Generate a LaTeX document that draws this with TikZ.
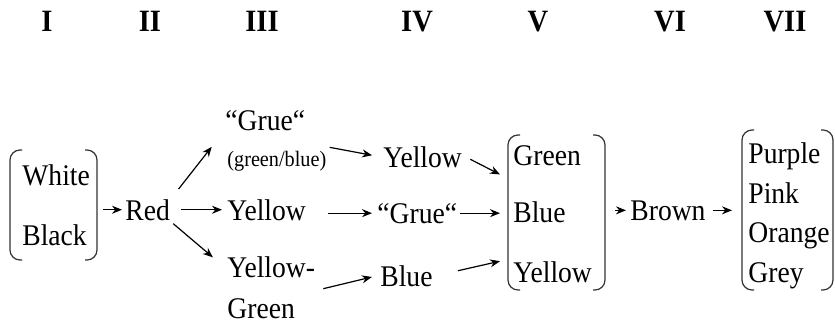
\documentclass[tikz,border=0pt]{standalone}
\usepackage{fontspec}
\setmainfont{Liberation Serif}[FakeStretch=0.92]
\usepackage{tikz}
\usetikzlibrary{positioning,arrows.meta}

\tikzset{
    word/.style={font=\fontsize{15}{18}\selectfont, inner sep=1.5pt, anchor=base west},
    small/.style={font=\fontsize{11}{13}\selectfont, inner sep=1.5pt, anchor=base west},
    stage/.style={font=\fontsize{15.5}{18}\selectfont\bfseries, inner sep=0pt, anchor=base},
    grp/.style={inner sep=0pt, outer sep=0pt, draw=none},
    arr/.style={-{Stealth[length=5pt,width=4pt]}, line width=0.6pt},
    brk/.style={line width=0.6pt, black!80, rounded corners=5pt}
}

\begin{document}
\begin{tikzpicture}[x=0.5pt, y=-0.5pt]
    \useasboundingbox (0,0) rectangle (835,322);

    % stages
    \node[stage] (s1) at (47,31) {I};
    \node[stage] (s2) at (150,31) {II};
    \node[stage] (s3) at (262,31) {III};
    \node[stage] (s4) at (417,31) {IV};
    \node[stage] (s5) at (538,31) {V};
    \node[stage] (s6) at (670,31) {VI};
    \node[stage] (s7) at (785,31) {VII};

    % groups in brackets
    \node[grp, minimum width=43.5pt, minimum height=55pt] (g1) at (53.5,205) {};
    \node[grp, minimum width=48.5pt, minimum height=77.5pt] (g5) at (556.5,212.5) {};
    \node[grp, minimum width=45.5pt, minimum height=80pt] (g7) at (787.5,210) {};

    \node[word] (white) at (19,185) {White};
    \node[word] (black) at (19,245) {Black};

    \node[word] (red) at (122,220) {Red};

    \node[word] (grue3) at (222,130) {“Grue“};
    \node[small] (gb) at (224,166) {(green/blue)};
    \node[word] (yel3) at (224,220) {Yellow};
    \node[word] (yg) at (224,277) {Yellow-};
    \node[word] (green3) at (224,318) {Green};

    \node[word] (yel4) at (380,167) {Yellow};
    \node[word] (grue4) at (374,223) {“Grue“};
    \node[word] (blue4) at (377,286) {Blue};

    \node[word] (green5) at (510,165) {Green};
    \node[word] (blue5) at (510,222) {Blue};
    \node[word] (yel5) at (510,282) {Yellow};

    \node[word] (brown) at (627,220) {Brown};

    \node[word] (purple) at (745,163) {Purple};
    \node[word] (pink) at (745,203) {Pink};
    \node[word] (orange) at (745,242) {Orange};
    \node[word] (grey) at (745,282) {Grey};

    % brackets
    \foreach \g in {g1,g5,g7} {
        \draw[brk] ([xshift=6pt]\g.north west) -- (\g.north west) -- (\g.south west) -- ([xshift=6pt]\g.south west);
        \draw[brk] ([xshift=-6pt]\g.north east) -- (\g.north east) -- (\g.south east) -- ([xshift=-6pt]\g.south east);
    }

    % arrows
    \draw[arr, shorten <=3pt] (g1.east |- red.west) -- (red.west);
    \draw[arr, shorten <=4.3pt, shorten >=8.3pt] (red.north east) -- (grue3.south west);
    \draw[arr, shorten <=4pt, shorten >=1pt] (red.east) -- (yel3.west);
    \draw[arr, shorten >=7.3pt] (red.south east) -- (yg.west);

    \draw[arr, shorten >=4pt] (gb.north east) -- (yel4.west);
    \draw[arr, shorten <=9.5pt, shorten >=1pt] (grue4.west -| yel3.east) -- (grue4.west);
    \draw[arr, shorten <=12.9pt, shorten >=2.6pt] (green3.north east) -- (blue4.west);

    \draw[arr, shorten <=2.8pt, shorten >=4.5pt] (yel4.east) -- (g5.145);
    \draw[arr, shorten >=4pt] (grue4.east) -- (grue4.east -| g5.west);
    \draw[arr, shorten <=11.3pt, shorten >=4.1pt] (blue4.east) -- (g5.224);

    \draw[arr, shorten <=5pt, shorten >=0.5pt] (g5.east |- brown.west) -- (brown.west);
    \draw[arr, shorten <=2pt, shorten >=5pt] (brown.east) -- (brown.east -| g7.west);
\end{tikzpicture}
\end{document}
